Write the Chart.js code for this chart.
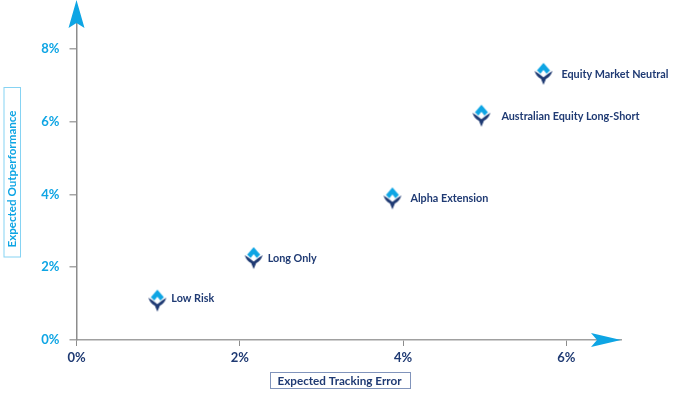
<!DOCTYPE html>
<html lang="en">
<head>
<meta charset="UTF-8">
<title>Expected Outperformance vs Tracking Error</title>
<script src="https://cdn.jsdelivr.net/npm/chart.js"></script>
<style>
    html, body { margin: 0; padding: 0; background: #fff; }
    canvas { display: block; }
</style>
</head>
<body>
<canvas id="riskChart" width="695" height="396"></canvas>
<script>
    // Data
    const categories = ['Low Risk', 'Long Only', 'Alpha Extension', 'Australian Equity Long-Short', 'Equity Market Neutral'];
    const trackingError = [0.99, 2.17, 3.87, 4.96, 5.72];
    const outperformance = [1.08, 2.25, 3.89, 6.16, 7.31];
    const xTitle = 'Expected Tracking Error';
    const yTitle = 'Expected Outperformance';

    const NAVY = '#1f3a73';
    const SKY = '#0ea5e4';
    const FONT = 'Lato, sans-serif';

    // label offset from the marker, px
    const labelDx = [14, 14, 18, 20, 18];
    const labelDy = [-2, 0, 0, 1, 1];

    // Marker icon: light blue kite on top, navy wings and spike below
    function makeMarker() {
        const c = document.createElement('canvas');
        c.width = 24;
        c.height = 24;
        const g = c.getContext('2d');
        g.translate(12, 12);
        g.fillStyle = SKY;
        g.beginPath();
        g.moveTo(0, -11);
        g.lineTo(6.5, -3.5);
        g.lineTo(0, 3);
        g.lineTo(-6.5, -3.5);
        g.closePath();
        g.fill();
        g.fillStyle = '#ffffff';
        g.beginPath();
        g.moveTo(0, -4);
        g.lineTo(3.2, 0);
        g.lineTo(0, 4);
        g.lineTo(-3.2, 0);
        g.closePath();
        g.fill();
        g.fillStyle = NAVY;
        g.beginPath();
        g.moveTo(-9, -3);
        g.quadraticCurveTo(-4, 0, 0, 3.5);
        g.quadraticCurveTo(4, 0, 9, -3);
        g.quadraticCurveTo(7, 3, 2.5, 5);
        g.lineTo(0, 11);
        g.lineTo(-2.5, 5);
        g.quadraticCurveTo(-7, 3, -9, -3);
        g.closePath();
        g.fill();
        return c;
    }

    function drawArrow(ctx, x, y, angle, len, half, notch) {
        ctx.save();
        ctx.translate(x, y);
        ctx.rotate(angle);
        ctx.fillStyle = SKY;
        ctx.beginPath();
        ctx.moveTo(0, 0);
        ctx.lineTo(-len, half);
        ctx.lineTo(-notch, 0);
        ctx.lineTo(-len, -half);
        ctx.closePath();
        ctx.fill();
        ctx.restore();
    }

    const decorations = {
        id: 'decorations',
        afterDatasetsDraw(chart) {
            const ctx = chart.ctx;
            const area = chart.chartArea;
            ctx.save();

            // the y arrow reaches the top of the canvas and hides the end of the axis line
            drawArrow(ctx, area.left, 0, -Math.PI / 2, 28, 8, 23);
            drawArrow(ctx, area.right, area.bottom, 0, 30, 7, 24);

            // point names
            ctx.font = 'bold 10.8px ' + FONT;
            ctx.fillStyle = NAVY;
            ctx.textAlign = 'left';
            ctx.textBaseline = 'middle';
            chart.getDatasetMeta(0).data.forEach((pt, i) => {
                ctx.fillText(categories[i], pt.x + labelDx[i], pt.y + labelDy[i]);
            });

            // boxed x axis title
            ctx.lineWidth = 1;
            ctx.strokeStyle = '#8194bb';
            ctx.strokeRect(270.5, 372.5, 140, 16);
            ctx.font = 'bold 11.7px ' + FONT;
            ctx.textAlign = 'center';
            ctx.fillText(xTitle, 339.5, 381);

            // boxed y axis title
            ctx.strokeStyle = '#86d3f3';
            ctx.strokeRect(4, 87.5, 16.5, 169.5);
            ctx.fillStyle = SKY;
            ctx.translate(12.5, 179);
            ctx.rotate(-Math.PI / 2);
            ctx.font = 'bold 11.6px ' + FONT;
            ctx.fillText(yTitle, 0, 0);
            ctx.restore();
        }
    };

    new Chart(document.getElementById('riskChart'), {
        type: 'scatter',
        data: {
            datasets: [{
                data: trackingError.map((x, i) => ({ x: x, y: outperformance[i] })),
                pointStyle: makeMarker(),
                clip: false
            }]
        },
        options: {
            responsive: false,
            animation: false,
            devicePixelRatio: 1,
            layout: { autoPadding: false, padding: { top: 0, right: 74, bottom: 0, left: 0 } },
            plugins: { legend: { display: false }, tooltip: { enabled: false } },
            scales: {
                x: {
                    type: 'linear',
                    min: 0,
                    max: 6.67,
                    afterFit(scale) { scale.height = 56; },
                    grid: { drawOnChartArea: false, color: '#8c8c8c', tickLength: 6 },
                    border: { color: '#a0a0a0', width: 1.5 },
                    ticks: {
                        stepSize: 2,
                        includeBounds: false,
                        maxRotation: 0,
                        padding: 4,
                        color: NAVY,
                        font: { family: FONT, size: 13, weight: 'bold' },
                        callback: v => v + '%'
                    }
                },
                y: {
                    type: 'linear',
                    min: 0,
                    max: 8.85,
                    afterFit(scale) { scale.width = 76.5; },
                    grid: { drawOnChartArea: false, color: '#a6a6a6', tickLength: 7, lineWidth: 1.5 },
                    border: { color: '#8c8c8c', width: 1.5 },
                    ticks: {
                        stepSize: 2,
                        includeBounds: false,
                        padding: 10,
                        color: SKY,
                        font: { family: FONT, size: 13, weight: 'bold' },
                        callback: v => v + '%'
                    }
                }
            }
        },
        plugins: [decorations]
    });
</script>
</body>
</html>
